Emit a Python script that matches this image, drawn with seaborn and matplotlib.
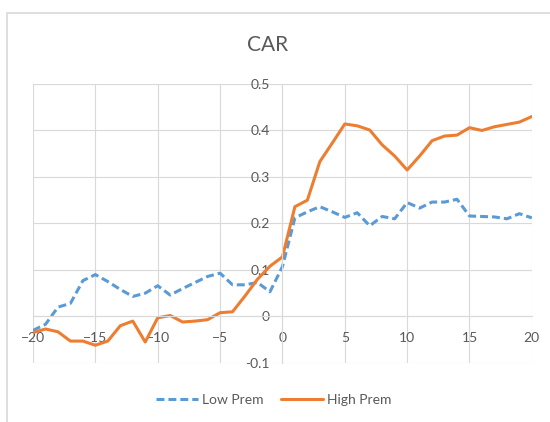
import pandas as pd
import seaborn as sns
import matplotlib.pyplot as plt
from matplotlib.patches import Rectangle

# event window
days = list(range(-20, 21))

# cumulative abnormal returns
low_prem = [-0.030, -0.017, 0.020, 0.028, 0.077, 0.090, 0.075, 0.058, 0.043, 0.050,
            0.066, 0.046, 0.060, 0.073, 0.086, 0.093, 0.068, 0.068, 0.073, 0.053,
            0.107, 0.212, 0.225, 0.236, 0.225, 0.213, 0.223, 0.195, 0.215, 0.210,
            0.245, 0.233, 0.246, 0.246, 0.252, 0.216, 0.215, 0.214, 0.210, 0.221,
            0.212]
high_prem = [-0.035, -0.027, -0.033, -0.053, -0.053, -0.062, -0.053, -0.020, -0.010, -0.055,
             -0.003, 0.002, -0.012, -0.010, -0.007, 0.008, 0.010, 0.044, 0.080, 0.108,
             0.128, 0.236, 0.250, 0.333, 0.373, 0.414, 0.410, 0.401, 0.369, 0.345,
             0.315, 0.345, 0.378, 0.388, 0.390, 0.406, 0.400, 0.408, 0.413, 0.418,
             0.430]

series_names = ['Low Prem', 'High Prem']
x_ticks = [-20, -15, -10, -5, 0, 5, 10, 15, 20]
y_ticks = [-0.1, 0, 0.1, 0.2, 0.3, 0.4, 0.5]
y_tick_labels = ['-0.1', '0', '0.1', '0.2', '0.3', '0.4', '0.5']

df = pd.DataFrame({
    'day': days * 2,
    'car': low_prem + high_prem,
    'series': [series_names[0]] * len(days) + [series_names[1]] * len(days),
})

sns.set_style('white')
plt.rcParams['font.family'] = ['Liberation Sans Narrow', 'Lato', 'DejaVu Sans']

grey_text = '#595959'
grid_col = '#d9d9d9'

fig = plt.figure(figsize=(5.5, 4.22), dpi=100)
ax = fig.add_axes([0.06, 0.14, 0.907, 0.661])

sns.lineplot(data=df, x='day', y='car', hue='series', style='series',
             palette={'Low Prem': '#5B9BD5', 'High Prem': '#ED7D31'},
             dashes={'Low Prem': (2.6, 1.3), 'High Prem': ''},
             linewidth=2.2, ax=ax, legend=True)

ax.set_xlim(-20, 20)
ax.set_ylim(-0.1, 0.5)
ax.set_xticks(x_ticks)
ax.set_yticks(y_ticks)
ax.set_yticklabels(y_tick_labels)
ax.set_xlabel('')
ax.set_ylabel('')

# axes cross at zero like the Excel original
ax.spines['left'].set_position(('data', 0))
ax.spines['bottom'].set_position(('data', 0))
for side in ['left', 'bottom']:
    ax.spines[side].set_color(grid_col)
    ax.spines[side].set_linewidth(0.8)
for side in ['top', 'right']:
    ax.spines[side].set_visible(False)
ax.grid(True, color=grid_col, linewidth=0.8)
ax.set_axisbelow(True)
ax.tick_params(axis='y', length=0, pad=9, labelsize=10, labelcolor=grey_text)
ax.tick_params(axis='x', length=0, pad=11, labelsize=10, labelcolor=grey_text)

# outer chart border
fig.patches.append(Rectangle((7 / 550, -0.2), 1.2, 1 - 13 / 422 + 0.2,
                             transform=fig.transFigure, fill=False,
                             edgecolor=grid_col, linewidth=1.2))

fig.text(0.487, 0.893, 'CAR', ha='center', va='center', fontsize=15, color=grey_text)

handles, labels = ax.get_legend_handles_labels()
ax.legend_.remove()
fig.legend(handles, labels, loc='center', bbox_to_anchor=(0.498, 0.052), ncol=2,
           frameon=False, fontsize=10, labelcolor=grey_text, handlelength=3.0,
           handletextpad=0.3, columnspacing=1.3)

plt.savefig('out.png', dpi=100, facecolor='w')
